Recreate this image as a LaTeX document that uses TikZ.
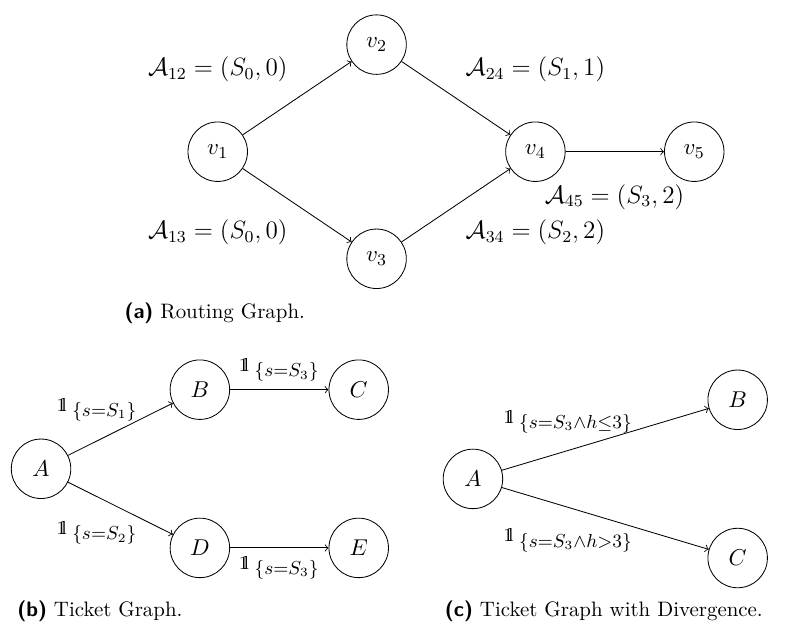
\documentclass[tikz,border=0pt,11pt]{standalone}
\usetikzlibrary{arrows}
\usetikzlibrary{positioning}
\tikzset {
  % graph vertex
  vertex/.style = {
    draw = black,
    circle,
    minimum size = 1cm,
    inner sep = 0
  },
  % directed edge
  arr/.style = {
    draw = black,
    ->
  },
  % edge annotation
  cond/.style = {
    inner sep = 0.3333em,
    font = \fontsize{12.6}{15}\selectfont
  },
  % routing annotation
  route/.style = {
    inner sep = 0.3333em,
    font = \fontsize{11.7}{14}\selectfont
  },
  subcap/.style = {
    font = \small
  },
  node distance = 1.33cm and 2.67cm,
  on grid
}
\newcommand{\sublabel}[1]{\textsf{\textbf{(#1)}}}
% indicator one, drawn as a doubled 1
\newcommand{\ind}{{\scriptstyle\mathrm{1\mkern-4.6mu l}}\mkern4mu}

\begin{document}
\begin{tikzpicture}
  \useasboundingbox (0,0) rectangle (13.33,10.55);

  % (a) routing graph
  \node[vertex] (v1) at (3.66,8.0) {$v_1$};
  \node[vertex] (v2) [above right=1.8cm and 2.67cm of v1] {$v_2$};
  \node[vertex] (v3) [below right=1.8cm and 2.67cm of v1] {$v_3$};
  \node[vertex] (v4) [right=5.34cm of v1] {$v_4$};
  \node[vertex] (v5) [right=2.67cm of v4] {$v_5$};
  \node[route] (a12) [above=1.38cm of v1] {$\mathcal{A}_{12} = (S_0, 0)$};
  \node[route] (a13) [below=1.36cm of v1] {$\mathcal{A}_{13} = (S_0, 0)$};
  \node[route] (a24) [above=1.38cm of v4] {$\mathcal{A}_{24} = (S_1, 1)$};
  \node[route] (a34) [below=1.36cm of v4] {$\mathcal{A}_{34} = (S_2, 2)$};
  \node[route] (a45) [below right=0.76cm and 1.33cm of v4] {$\mathcal{A}_{45} = (S_3, 2)$};
  \draw[arr] (v1) -- (v2);
  \draw[arr] (v1) -- (v3);
  \draw[arr] (v2) -- (v4);
  \draw[arr] (v3) -- (v4);
  \draw[arr] (v4) -- (v5);
  \node[subcap] (capa) at (3.61,5.29) {\sublabel{a} Routing Graph.};

  % (b) ticket graph
  \node[vertex] (tA) at (0.69,2.67) {$A$};
  \node[vertex] (tB) [above right=of tA] {$B$};
  \node[vertex] (tD) [below right=of tA] {$D$};
  \node[vertex] (tC) [right=of tB] {$C$};
  \node[vertex] (tE) [right=of tD] {$E$};
  \node[cond] (sAB) [above right=0.99cm and 0.94cm of tA] {$\ind_{\{s=S_1\}}$};
  \node[cond] (sAD) [below right=1.08cm and 0.94cm of tA] {$\ind_{\{s=S_2\}}$};
  \draw[arr] (tA) -- (tB);
  \draw[arr] (tA) -- (tD);
  \draw[arr] (tB) -- node[cond, above] (sBC) {$\ind_{\{s=S_3\}}$} (tC);
  \draw[arr] (tD) -- node[cond, below] (sDE) {$\ind_{\{s=S_3\}}$} (tE);
  \node[subcap] (capb) at (1.68,0.27) {\sublabel{b} Ticket Graph.};

  % (c) ticket graph with divergence
  \node[vertex] (dA) at (7.95,2.50) {$A$};
  \node[vertex] (dB) [above right=1.33cm and 4.45cm of dA] {$B$};
  \node[vertex] (dC) [below right=1.33cm and 4.45cm of dA] {$C$};
  \node[cond] (sle) [above right=0.96cm and 1.6cm of dA] {$\ind_{\{s=S_3\wedge h\leq 3\}}$};
  \node[cond] (sgt) [below right=1.03cm and 1.6cm of dA] {$\ind_{\{s=S_3\wedge h>3\}}$};
  \draw[arr] (dA) -- (dB);
  \draw[arr] (dA) -- (dC);
  \node[subcap] (capc) at (10.15,0.27) {\sublabel{c} Ticket Graph with Divergence.};
\end{tikzpicture}
\end{document}
